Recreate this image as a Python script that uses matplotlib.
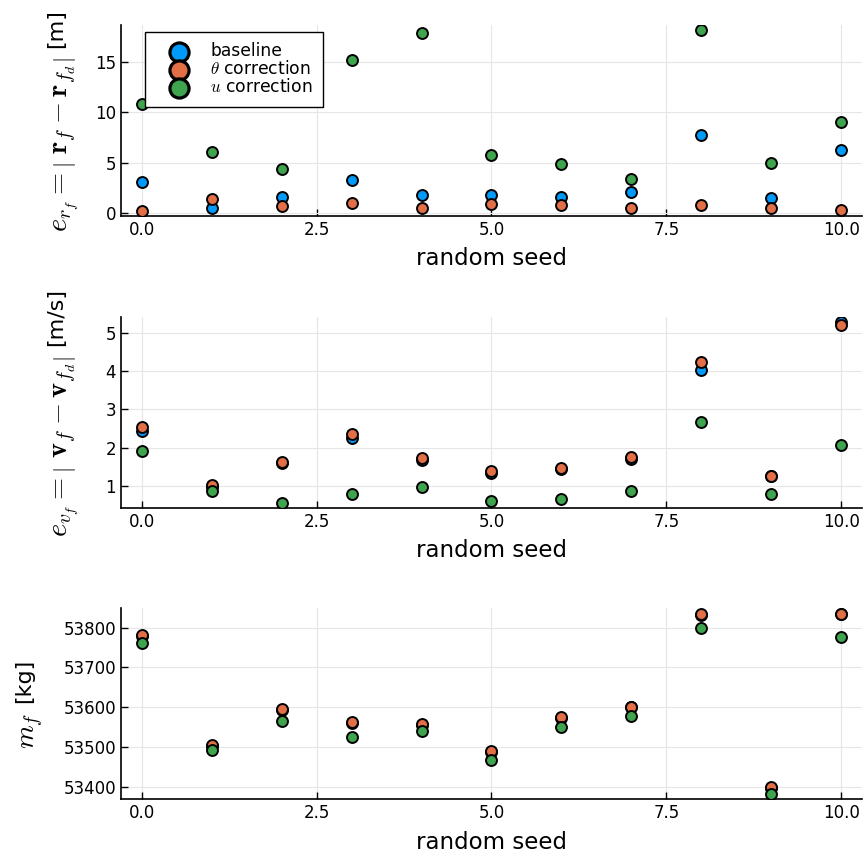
import matplotlib
matplotlib.use("Agg")
import matplotlib.pyplot as plt

plt.rcParams['mathtext.fontset'] = 'cm'
plt.rcParams['font.family'] = ['DejaVu Sans']

seeds = [0, 1, 2, 3, 4, 5, 6, 7, 8, 9, 10]

# final position error [m]
pos_baseline = [3.06, 0.56, 1.65, 3.26, 1.78, 1.84, 1.65, 2.14, 7.80, 1.48, 6.29]
pos_theta = [0.26, 1.45, 0.72, 1.05, 0.53, 0.92, 0.79, 0.53, 0.79, 0.56, 0.36]
pos_u = [10.86, 6.05, 4.34, 15.20, 17.90, 5.79, 4.90, 3.42, 18.13, 5.00, 9.05]

# final velocity error [m/s]
vel_baseline = [2.43, 0.98, 1.59, 2.26, 1.69, 1.34, 1.45, 1.71, 4.03, 1.25, 5.27]
vel_theta = [2.53, 1.02, 1.64, 2.35, 1.74, 1.39, 1.48, 1.76, 4.24, 1.27, 5.21]
vel_u = [1.92, 0.88, 0.57, 0.80, 0.97, 0.61, 0.65, 0.88, 2.68, 0.80, 2.08]

# final mass [kg]
mass_baseline = [53779, 53503, 53594, 53561, 53555, 53488, 53574, 53600, 53833, 53398, 53834]
mass_theta = [53781, 53505, 53596, 53562, 53557, 53490, 53575, 53601, 53834, 53399, 53835]
mass_u = [53761, 53492, 53565, 53526, 53539, 53467, 53550, 53579, 53799, 53382, 53777]

labels = ["baseline", r"$\theta$ correction", r"$u$ correction"]
colors = ["#009AFA", "#E36F47", "#3EA44E"]

# (series, math label, unit, y ticks, label x, math size)
panels = [
    ((pos_baseline, pos_theta, pos_u),
     r"$e_{r_f} = \left|\ \mathbf{r}_f - \mathbf{r}_{f_d}\right|$", "[m]",
     [0, 5, 10, 15], -0.054, 20.5),
    ((vel_baseline, vel_theta, vel_u),
     r"$e_{v_f} = \left|\ \mathbf{v}_f - \mathbf{v}_{f_d}\right|$", "[m/s]",
     [1, 2, 3, 4, 5], -0.054, 20.5),
    ((mass_baseline, mass_theta, mass_u),
     r"$m_f$", "[kg]", [53400, 53500, 53600, 53700, 53800], -0.101, 19.5),
]

fig = plt.figure(figsize=(8.63, 8.63), dpi=100)
boxes = [(0.140, 0.7497, 0.859, 0.2213),
         (0.140, 0.4114, 0.859, 0.2213),
         (0.140, 0.0738, 0.859, 0.2213)]

axes = []
units = []
for i, (series, ylab, unit, yt, labx, msize) in enumerate(panels):
    ax = fig.add_axes(boxes[i])
    for ys, c, lab in zip(series, colors, labels):
        ax.scatter(seeds, ys, s=62, color=c, edgecolors="black",
                   linewidths=1.4, label=lab, zorder=3)
    ax.margins(x=0.03, y=0.03)
    ax.set_xticks([0, 2.5, 5, 7.5, 10])
    ax.set_xticklabels(["0.0", "2.5", "5.0", "7.5", "10.0"])
    ax.set_yticks(yt)
    ax.grid(True, color="#e6e6e6", linewidth=0.8, zorder=0)
    ax.set_axisbelow(True)
    for side in ("top", "right"):
        ax.spines[side].set_visible(False)
    for side in ("left", "bottom"):
        ax.spines[side].set_linewidth(1.2)
    ax.tick_params(direction="in", length=5, width=1.0, labelsize=12)
    ax.set_xlabel("random seed", fontsize=16.5, labelpad=6)
    ax.set_ylabel(ylab, fontsize=msize)
    ax.yaxis.set_label_coords(labx, 0.5)
    # unit text sits above the math part of the y label
    u = ax.annotate(unit, xy=(0.0, 1.0), xycoords=ax.yaxis.label,
                    xytext=(-4.5, 7), textcoords="offset points",
                    rotation=90, ha="left", va="bottom", fontsize=16)
    axes.append(ax)
    units.append(u)
    if i == 0:
        ax.legend(loc="upper left", bbox_to_anchor=(0.033, 0.965),
                  borderaxespad=0, fontsize=12.3, frameon=True,
                  fancybox=False, edgecolor="black", framealpha=1,
                  labelspacing=0.0, handlelength=2.75, handletextpad=0.42,
                  markerscale=1.75, borderpad=0.62)
        leg = ax.get_legend()
        leg.get_frame().set_linewidth(1.0)
        for h in leg.legend_handles:
            h.set_linewidth(2.3)

# centre the combined label (math + unit) on each axes
fig.canvas.draw()
r = fig.canvas.get_renderer()
for ax, u, p in zip(axes, units, panels):
    lb = ax.yaxis.label.get_window_extent(r)
    ub = u.get_window_extent(r)
    ah = ax.get_window_extent(r).height
    shift = (ub.y1 - lb.y1) / 2.0
    ax.yaxis.set_label_coords(p[4], 0.5 - shift / ah)

fig.savefig("out.png", dpi=100)
